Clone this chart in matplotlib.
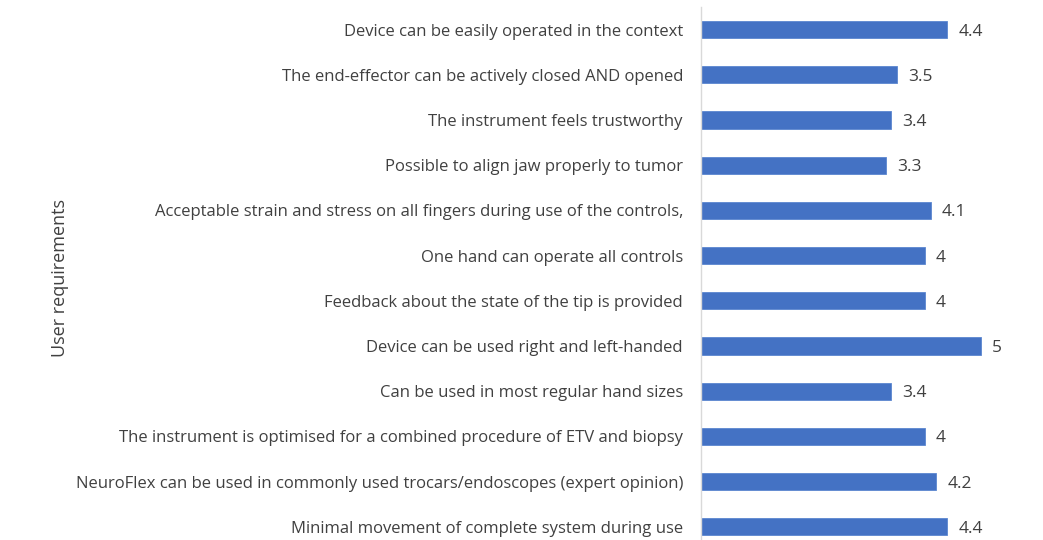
import matplotlib.pyplot as plt

requirements = [
    "Device can be easily operated in the context",
    "The end-effector can be actively closed AND opened",
    "The instrument feels trustworthy",
    "Possible to align jaw properly to tumor",
    "Acceptable strain and stress on all fingers during use of the controls,",
    "One hand can operate all controls",
    "Feedback about the state of the tip is provided",
    "Device can be used right and left-handed",
    "Can be used in most regular hand sizes",
    "The instrument is optimised for a combined procedure of ETV and biopsy",
    "NeuroFlex can be used in commonly used trocars/endoscopes (expert opinion)",
    "Minimal movement of complete system during use",
]
scores = [4.4, 3.5, 3.4, 3.3, 4.1, 4, 4, 5, 3.4, 4, 4.2, 4.4]
score_labels = ["4.4", "3.5", "3.4", "3.3", "4.1", "4", "4", "5", "3.4", "4", "4.2", "4.4"]

plt.rcParams['font.family'] = ['Open Sans', 'DejaVu Sans']
text_col = '#404040'

fig = plt.figure(figsize=(10.43, 5.4), dpi=100)
ax = fig.add_axes([701 / 1043, 0, 329 / 1043, 533 / 540])

pos = list(range(len(requirements)))
ax.barh(pos, scores, height=0.38, color='#4472C4', edgecolor='#5b86d0', linewidth=0.6)

for p, s, lab in zip(pos, scores, score_labels):
    ax.annotate(lab, (s, p), xytext=(8, 0), textcoords='offset points',
                va='center_baseline', ha='left', fontsize=12.5, color=text_col)

ax.set_xlim(0, 329 / 56)
ax.set_ylim(11.29, -0.5)
ax.set_yticks(pos)
ax.set_yticklabels(requirements, fontsize=12, color=text_col)
ax.tick_params(axis='y', length=0, pad=13)
ax.set_xticks([])
for side in ['top', 'right', 'bottom']:
    ax.spines[side].set_visible(False)
ax.spines['left'].set_color('#d9d9d9')
ax.spines['left'].set_linewidth(1)

fig.text(60 / 1043, 1 - 278 / 540, "User requirements", rotation=90,
         ha='center', va='center', fontsize=13, color=text_col)

fig.savefig('out.png', dpi=100)
